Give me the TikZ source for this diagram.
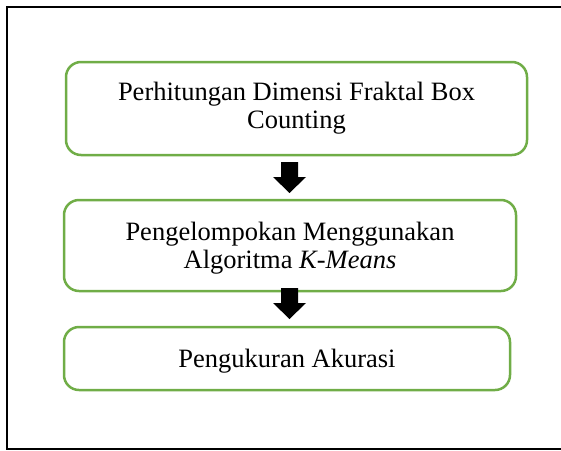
\documentclass[tikz,border=0pt]{standalone}
\usepackage{fontspec}
\setmainfont{Liberation Serif}
\definecolor{boxgreen}{HTML}{70AD47}
\begin{document}
\begin{tikzpicture}[x=1pt,y=-1pt,
  flowbox/.style={draw=boxgreen, line width=2.5pt, rounded corners=15pt, inner sep=0pt, outer sep=0pt, align=center, font=\fontsize{26.5}{28}\selectfont},
  frame/.style={draw=black, line width=2.25pt},
  blockarrow/.pic={\fill[black] (-8.5,0) -- (8.5,0) -- (8.5,15) -- (16.5,15) -- (0,31) -- (-16.5,15) -- (-8.5,15) -- cycle;}]
\useasboundingbox (0,0) rectangle (561,450);
\draw[frame] (7,7) rectangle (575,449);
\node[flowbox, minimum width=461pt, minimum height=93pt] (b1) at (296.5,108.5) {Perhitungan Dimensi Fraktal Box\\Counting};
\node[flowbox, minimum width=452pt, minimum height=91pt] (b2) at (290,245.5) {\rule{0pt}{24pt}Pengelompokan Menggunakan\\Algoritma \textit{K-Means}};
\node[flowbox, minimum width=446pt, minimum height=63pt, text height=24pt, text depth=6pt] (b3) at (287,358.5) {Pengukuran Akurasi};
\coordinate (a1) at (289.5,162);
\coordinate (a2) at (289.5,288);
\pic at (a1) {blockarrow};
\pic at (a2) {blockarrow};
\end{tikzpicture}
\end{document}
